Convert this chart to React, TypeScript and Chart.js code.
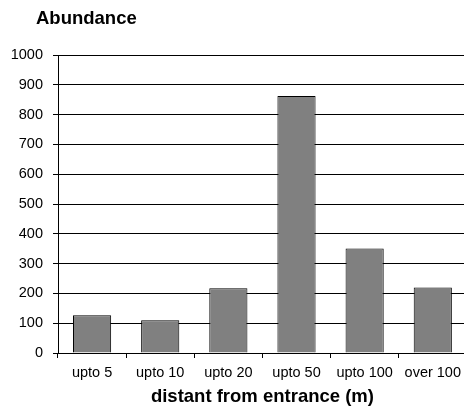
import React, { useEffect, useRef } from "react";
import { Chart, registerables } from "chart.js";

Chart.register(...registerables);

const categories: string[] = ["upto 5", "upto 10", "upto 20", "upto 50", "upto 100", "over 100"];
const abundance: number[] = [127, 110, 217, 862, 351, 220];
const yTitle = "Abundance";
const xTitle = "distant from entrance (m)";

const FONT = "'Liberation Sans', Arial, Helvetica, sans-serif";

export default function App() {
  const ref = useRef<HTMLCanvasElement | null>(null);

  useEffect(() => {
    if (!ref.current) return;
    const titlePlugin = {
      id: "cornerTitle",
      afterDraw(chart: any) {
        const ctx = chart.ctx;
        ctx.save();
        ctx.font = `bold 18.5px ${FONT}`;
        ctx.fillStyle = "#000";
        ctx.textAlign = "left";
        ctx.textBaseline = "alphabetic";
        ctx.fillText(yTitle, 36, 24);
        ctx.restore();
      },
    };
    const chart = new Chart(ref.current, {
      type: "bar",
      data: {
        labels: categories,
        datasets: [
          {
            data: abundance,
            backgroundColor: "#808080",
            borderColor: "#000000",
            borderWidth: 1,
            barPercentage: 0.56,
            categoryPercentage: 1,
          },
        ],
      },
      plugins: [titlePlugin],
      options: {
        responsive: false,
        animation: false,
        layout: { padding: { top: 55, left: 0, right: 0, bottom: 0 } },
        plugins: {
          legend: { display: false },
          title: { display: false },
          tooltip: { enabled: false },
        },
        scales: {
          x: {
            offset: true,
            grid: {
              offset: true,
              drawOnChartArea: false,
              drawTicks: true,
              tickLength: 5,
              color: "#000",
              tickColor: "#000",
            },
            border: { display: true, color: "#000", width: 1 },
            ticks: {
              color: "#000",
              font: { family: FONT, size: 14.5 },
              padding: 6,
              maxRotation: 0,
              autoSkip: false,
            },
            title: {
              display: true,
              text: xTitle,
              color: "#000",
              font: { family: FONT, size: 18.5, weight: "bold" },
              padding: { top: 0, bottom: 0 },
            },
            afterFit(scale: any) {
              scale.height = 55;
            },
          },
          y: {
            min: 0,
            max: 1000,
            grid: {
              color: "#000",
              tickColor: "#000",
              lineWidth: 1,
              drawTicks: true,
              tickLength: 5,
            },
            border: { display: true, color: "#000", width: 1 },
            ticks: {
              stepSize: 100,
              color: "#000",
              font: { family: FONT, size: 14.5 },
              padding: 10,
              callback: (v: any) => String(v),
            },
            afterFit(scale: any) {
              scale.width = 58;
            },
          },
        },
      },
    });
    return () => chart.destroy();
  }, []);

  return (
    <div
      style={{
        position: "fixed",
        left: 0,
        top: 0,
        width: 464,
        height: 408,
        overflow: "hidden",
        background: "#fff",
      }}
    >
      <canvas ref={ref} width={467} height={408} style={{ display: "block" }} />
    </div>
  );
}
